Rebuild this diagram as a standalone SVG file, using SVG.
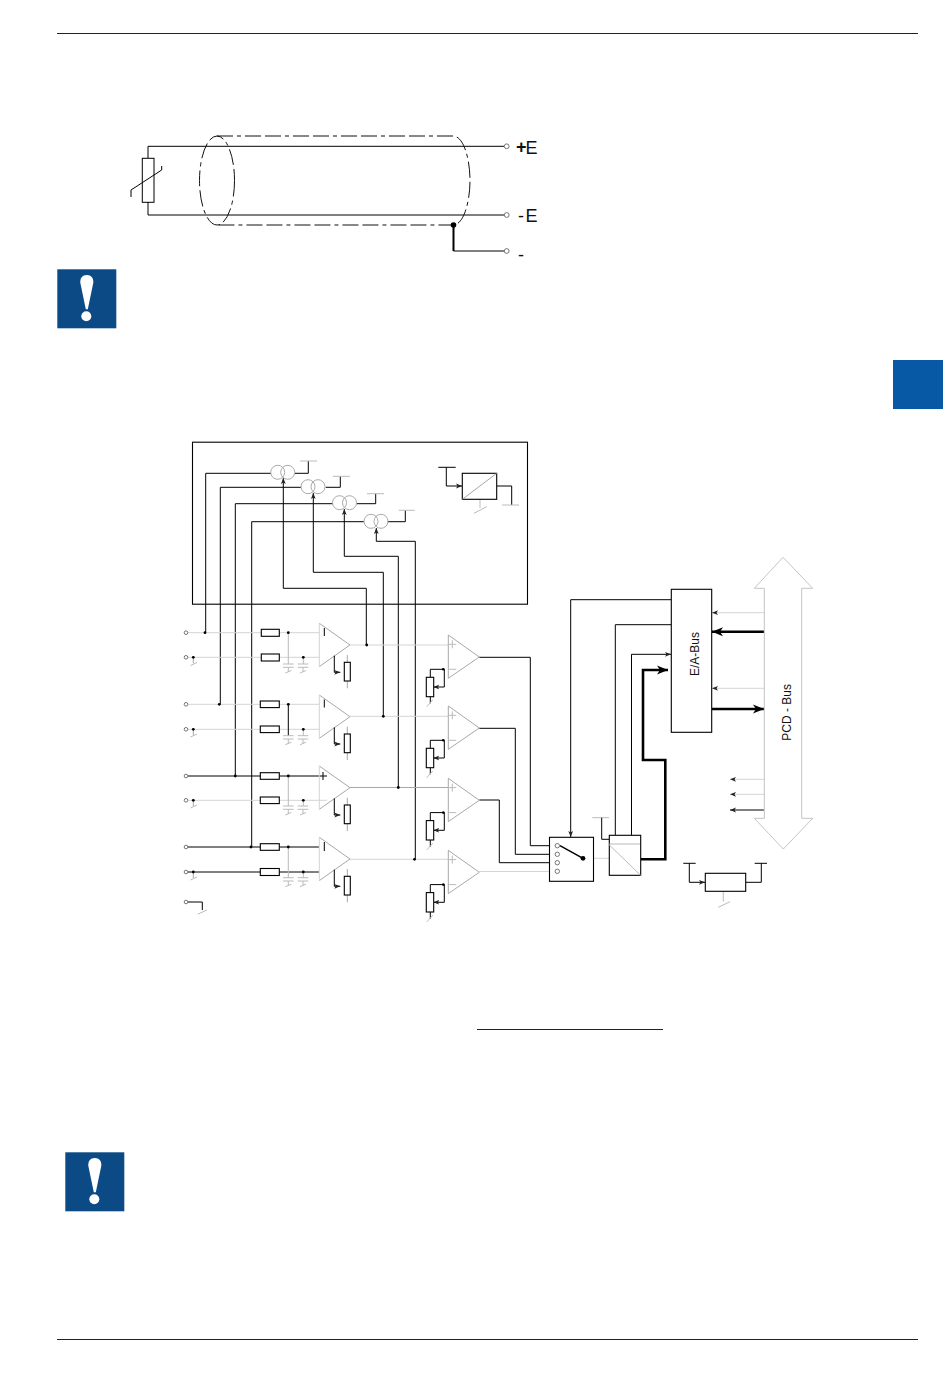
<svg xmlns="http://www.w3.org/2000/svg" xmlns:xlink="http://www.w3.org/1999/xlink" width="950" height="1378" viewBox="0 0 950 1378">
<style>
.k{fill:none;stroke:#000;stroke-width:1}
.k2{fill:none;stroke:#000;stroke-width:1.4}
.g{fill:none;stroke:#d4d4d4;stroke-width:1}
.m{fill:none;stroke:#a8a8a8;stroke-width:1}
.t{fill:none;stroke:#bbb;stroke-width:1}
.box{fill:#fff;stroke:#000;stroke-width:1.1}
.dot{fill:#000;stroke:none}
.term{fill:#fff;stroke:#666;stroke-width:.9}
.shield{fill:none;stroke:#111;stroke-width:1;stroke-dasharray:16 4 4 4 16 4}
.lab{font-family:"Liberation Sans",Arial,sans-serif;fill:#111}
</style>
<defs>
<marker id="a" markerUnits="userSpaceOnUse" markerWidth="7" markerHeight="6" refX="6" refY="3" orient="auto"><path d="M0,.6 L6,3 L0,5.4 L1.5,3z" fill="#222"/></marker>
<marker id="ab" markerUnits="userSpaceOnUse" markerWidth="12" markerHeight="10" refX="11" refY="5" orient="auto"><path d="M0,.5 L11,5 L0,9.5 L3,5z" fill="#000"/></marker>
<g id="amp1">
<path d="M0,0 L30.7,21.7 L0,43.3" class="m"/><path d="M0,0 V43.3" class="g"/>
<path d="M15,32.4 V49 H21" class="k" marker-end="url(#a)"/>
<path d="M28,31.7 V65" class="m"/>
<rect x="25" y="39" width="6" height="18.7" class="box"/>
</g>
<g id="amp2">
<path d="M0,0 L31,22 L0,43.3" class="m"/><path d="M0,0 V43.3" class="m"/>
<path d="M0,9.3 H8 M4,5.3 V13.3 M0,34.3 H8" class="t"/>
<path d="M-4,34.3 H-18 V42.3 M-18,61.7 V68.3" class="k"/>
<path d="M-4,34.3 V52 H-15" class="k" marker-end="url(#a)"/>
<path d="M-21.6,71.7 L-15.6,65" class="t"/>
<rect x="-22" y="42.3" width="7.4" height="19.4" class="box"/>
<circle cx="-5" cy="34.3" r="1.3" class="dot"/>
</g>
<g id="cap">
<path d="M-5.3,0 H5.3 M-5.3,3.3 H5.3 M0,3.3 V8 M-3,9 L3,6.5" class="t"/>
</g>
<g id="xf">
<circle cx="0" cy="0" r="7" fill="none" stroke="#aaa"/><circle cx="10" cy="0" r="7" fill="none" stroke="#aaa"/>
</g>
<g id="warn">
<rect width="59" height="59" fill="#0b4a85"/>
<path d="M29.5,5.7 C34,5.7 36.4,9 36,13.5 L30.5,40 H28.5 L23,13.5 C22.6,9 25,5.7 29.5,5.7z" fill="#fff"/>
<circle cx="29" cy="47" r="5" fill="#fff"/>
</g>
</defs>
<rect width="950" height="1378" fill="#fff"/>
<g id="page">
<path d="M57,33.5 H918 M57,1339.5 H918" stroke="#222" stroke-width="1" fill="none"/>
<rect x="893" y="360" width="50" height="49" fill="#0859a5"/>
<use id="warn-top" href="#warn" x="57.3" y="269.3"/>
<use id="warn-bottom" href="#warn" x="65.3" y="1152.3"/>
<path d="M477,1029.5 H663" stroke="#222" fill="none"/>
</g>
<g id="sensor-circuit">
<g id="sensor-connectors">
<path d="M148,158 V146.3 H504 M148,202 V215 H504" class="k"/>
<path d="M453.5,225 V251" fill="none" stroke="#000" stroke-width="2"/>
<path d="M453.5,251 H504" class="k"/>
</g>
<g id="sensor"><rect x="142.3" y="158.3" width="11.7" height="44" fill="none" stroke="#000"/>
<path d="M131,197 V190 L161.7,170 V166" fill="none" stroke="#000"/></g>
<g id="shield">
<ellipse cx="217" cy="180.5" rx="17.5" ry="44.5" class="shield"/>
<path d="M217,136 H453 C464,136 470,160 470,180.5 C470,201 464,225 453,225 H217" class="shield"/>
<circle cx="453.5" cy="225" r="2.8" class="dot"/></g>
<g id="term-pos"><circle cx="506.7" cy="146.3" r="2.4" class="term"/><text x="516" y="153" class="lab" font-size="18" font-weight="bold">+</text><text x="525.5" y="154" class="lab" font-size="18">E</text></g>
<g id="term-neg"><circle cx="506.7" cy="215" r="2.4" class="term"/><text x="518" y="221.5" class="lab" font-size="18">-</text><text x="525.5" y="221.5" class="lab" font-size="18">E</text></g>
<g id="term-gnd"><circle cx="506.7" cy="251" r="2.4" class="term"/><text x="518" y="261" class="lab" font-size="18">-</text></g>
</g>
<g id="connectors">
<path d="M205.7,632.7 V473.3 H271 M220.300,704.3 V487.3 H301 M235.3,776 V503.700 H333 M251.7,847 V521.7 H364" class="k"/>
<path d="M295,473.3 H308.3 V461 M325.7,487.3 H340.3 V476.300 M356.7,503.7 H375.7 V493.7 M387.7,521.7 H405.3 V510.3" class="k"/>
<path d="M300,461 H317 M332.7,476.300 H350 M367,493.7 H384 M398.7,510.3 H414.7" class="t"/>
<path d="M366.3,645 V588.3 H283.3 V478" class="k" marker-end="url(#a)"/>
<path d="M383.3,716.3 V572.3 H313.300 V493" class="k" marker-end="url(#a)"/>
<path d="M398.3,787.5 V556.3 H344.3 V509" class="k" marker-end="url(#a)"/>
<path d="M415.3,859.3 V541.3 H376.3 V528" class="k" marker-end="url(#a)"/>
<path d="M438.3,467.3 H455.7 M446.3,467.3 V486 H462" class="k" marker-end="url(#a)"/>
<path d="M497,486 H511.7 V505" class="k"/><path d="M502,505 H519 M480,499.300 V508 M474,513.3 L486.7,506.7" class="t"/>
<path d="M188,632.7 H261 M279.3,632.7 H319 M188,657.3 H261 M279.3,657.3 H319" class="g"/>
<path d="M188,704.3 H261 M279.3,704.3 H319 M188,729.3 H261 M279.3,729.3 H319" class="g"/>
<path d="M188,776 H261 M279.3,776 H327 M323,772 V780" class="k"/>
<path d="M188,800.3 H261 M279.3,800.3 H327" class="g"/>
<path d="M188,847 H261 M279.3,847 H319 M188,872 H261 M279.3,872 H319" class="k"/>
<path d="M324.3,628 V636 M324.3,699.5 V707.500 M324.3,842 V851" class="k"/>
<path d="M288.3,632.7 V664 M303.3,657.3 V664 M303.3,729.3 V735.7 M288.3,776 V806 M303.3,800.3 V806 M288.3,847 V877.7 M303.3,872 V877.7" class="t"/>
<path d="M288.3,704.3 V735.7" class="k"/>
<path d="M193.3,657.3 V663.3 M193.3,729.3 V735 M193.3,800.3 V806 M193.3,872 V878" class="m"/>
<path d="M190.5,665.500 L197,662.5 M190.5,737 L197,734 M190.5,808 L197,805 M190.5,880 L197,877" class="t"/>
<path d="M188,902 H202.3 V910" class="k"/><path d="M197.7,914.3 L206.700,910" class="t"/>
<path d="M350,645 H448" class="g"/><path d="M350,716.3 H448" class="g"/><path d="M350,787.5 H448" class="m"/><path d="M350,859.3 H448" class="g"/>
<path d="M479.3,657.3 H530.3 V845.7 H555" class="k"/>
<path d="M479.3,728.3 H515.3 V854.3 H555" class="k"/>
<path d="M479.3,800 H499.3 V862.700 H555" class="k"/>
<path d="M479.3,871.5 H555" class="g"/>
<path d="M583,858.3 H609" class="g"/>
<path d="M671,599.7 H570.7 V837" class="k" marker-end="url(#a)"/>
<path d="M671,624.7 H615.3 V835" class="k"/>
<path d="M631.5,835 V654.3 H671" class="k" marker-end="url(#a)"/>
<path d="M640.7,859.3 H665.3 V760 H643 V670 H668" fill="none" stroke="#000" stroke-width="2.6" marker-end="url(#ab)"/>
<path d="M592.3,817.7 H609" class="t"/><path d="M601.7,817.7 V839.3 H609.300" class="k"/>
<path d="M764,612.7 H712" class="g" marker-end="url(#a)"/>
<path d="M764,631.7 H712" fill="none" stroke="#000" stroke-width="2.4" marker-end="url(#ab)"/>
<path d="M764,688.3 H712" class="g" marker-end="url(#a)"/>
<path d="M712,709 H764" fill="none" stroke="#000" stroke-width="2.4" marker-end="url(#ab)"/>
<path d="M764,779.3 H730" class="g" marker-end="url(#a)"/>
<path d="M764,794.3 H730" class="g" marker-end="url(#a)"/>
<path d="M764,810 H730" class="k" marker-end="url(#a)"/>
<path d="M683.3,863.3 H695.700 M689.3,863.3 V882.3 H705" class="k" marker-end="url(#a)"/>
<path d="M745.700,882.3 H761.3 V863.3 M754.7,863.3 H767" class="k"/>
<path d="M723.3,891.3 V901.7 M718.3,907.3 L730,901.700" class="t"/>
<g class="dot">
<circle cx="205" cy="632.7" r="1.4"/><circle cx="219.3" cy="704.3" r="1.4"/><circle cx="235.3" cy="776" r="1.4"/><circle cx="251" cy="847" r="1.4"/>
<circle cx="193.3" cy="657.3" r="1.4"/><circle cx="193.3" cy="729.3" r="1.4"/><circle cx="193.3" cy="800.3" r="1.4"/><circle cx="193.3" cy="872" r="1.4"/>
<circle cx="288.3" cy="632.7" r="1.4"/><circle cx="288.3" cy="704.3" r="1.4"/><circle cx="288.3" cy="776" r="1.4"/><circle cx="288.3" cy="847" r="1.4"/>
<circle cx="303.3" cy="657.3" r="1.4"/><circle cx="303.3" cy="729.3" r="1.4"/><circle cx="303.3" cy="800.3" r="1.4"/><circle cx="303.3" cy="872" r="1.4"/>
<circle cx="366.7" cy="645" r="1.4"/><circle cx="383.3" cy="716.3" r="1.4"/><circle cx="398.3" cy="787.5" r="1.4"/><circle cx="414.5" cy="859.3" r="1.4"/>
</g>
</g>
<g id="current-sources">
<rect x="192.5" y="442.2" width="335" height="162" fill="none" stroke="#000" stroke-width="1.1"/>
<use id="xf1" href="#xf" x="277.7" y="472.3"/>
<use id="xf2" href="#xf" x="308" y="486.7"/>
<use id="xf3" href="#xf" x="339.500" y="502.7"/>
<use id="xf4" href="#xf" x="371" y="521.3"/>
<g id="conv-top"><rect x="462.3" y="473.3" width="34.4" height="26" class="box"/><path d="M462.3,499.3 L496.700,473.3" class="m"/></g>
</g>
<g id="inputs">
<circle cx="186" cy="632.700" r="1.8" class="term"/><circle cx="186" cy="657.3" r="1.8" class="term"/><circle cx="186" cy="704.3" r="1.8" class="term"/><circle cx="186" cy="729.3" r="1.8" class="term"/><circle cx="186" cy="776" r="1.8" class="term"/><circle cx="186" cy="800.3" r="1.8" class="term"/><circle cx="186" cy="847" r="1.8" class="term"/><circle cx="186" cy="872" r="1.8" class="term"/><circle cx="186" cy="902" r="1.8" class="term"/>
</g>
<g id="input-resistors">
<rect x="261.3" y="629.3" width="18" height="7" class="box"/><rect x="261.3" y="654" width="18" height="7" class="box"/>
<rect x="260.3" y="701" width="19" height="6.6" class="box"/><rect x="260.3" y="726" width="19" height="6.6" class="box"/>
<rect x="260.3" y="772.7" width="19" height="6.6" class="box"/><rect x="260.3" y="797" width="19" height="6.6" class="box"/>
<rect x="260.3" y="843.7" width="19" height="6.6" class="box"/><rect x="260.3" y="868.5" width="19" height="7" class="box"/>
</g>
<g id="capacitors">
<use href="#cap" x="288.3" y="664"/><use href="#cap" x="303" y="664"/>
<use href="#cap" x="288.3" y="735.700"/><use href="#cap" x="303" y="735.7"/>
<use href="#cap" x="288.3" y="806"/><use href="#cap" x="303" y="806"/>
<use href="#cap" x="288.3" y="877.7"/><use href="#cap" x="303" y="877.7"/>
</g>
<g id="amp-a1"><use href="#amp1" x="319.3" y="623.3"/></g>
<g id="amp-a2"><use href="#amp1" x="319.3" y="695"/></g>
<g id="amp-a3"><use href="#amp1" x="319.3" y="766"/></g>
<g id="amp-a4"><use href="#amp1" x="319.3" y="837.3"/></g>
<g id="amp-b1"><use href="#amp2" x="448.3" y="635"/></g>
<g id="amp-b2"><use href="#amp2" x="448.3" y="706"/></g>
<g id="amp-b3"><use href="#amp2" x="448.3" y="778.3"/></g>
<g id="amp-b4"><use href="#amp2" x="448.3" y="850.3"/></g>
<g id="mux"><rect x="549.5" y="837.3" width="44" height="44" class="box"/>
<circle cx="557.3" cy="845.7" r="2.2" class="term"/><circle cx="557.3" cy="854.3" r="2.2" class="term"/><circle cx="557.3" cy="862.700" r="2.2" class="term"/><circle cx="557.3" cy="871.3" r="2.2" class="term"/>
<path d="M560,845.7 L583,858.3" stroke="#000" stroke-width="1.5"/><circle cx="583" cy="858.3" r="2.4" class="dot"/></g>
<g id="adc"><rect x="609.3" y="835.3" width="31.4" height="40" class="box"/><path d="M609.3,844 H640 M609.3,845 L640.7,875.3" class="t"/></g>
<g id="ea-bus"><rect x="671.3" y="589.3" width="40.4" height="143" class="box"/>
<text transform="translate(699,654) rotate(-90)" text-anchor="middle" class="lab" font-size="12">E/A-Bus</text></g>
<g id="pcd-bus">
<path d="M764.3,588.3 H754.3 L783,557.3 L812.7,588.3 H801.7 V818.3 H812.7 L783.3,849 L754.3,818.3 H764.3 Z" fill="none" stroke="#c4c4c4"/>
<text transform="translate(791,712.3) rotate(-90)" text-anchor="middle" class="lab" font-size="12">PCD - Bus</text></g>
<g id="regulator"><rect x="705.3" y="873.3" width="40.4" height="18" class="box"/></g>
</svg>
